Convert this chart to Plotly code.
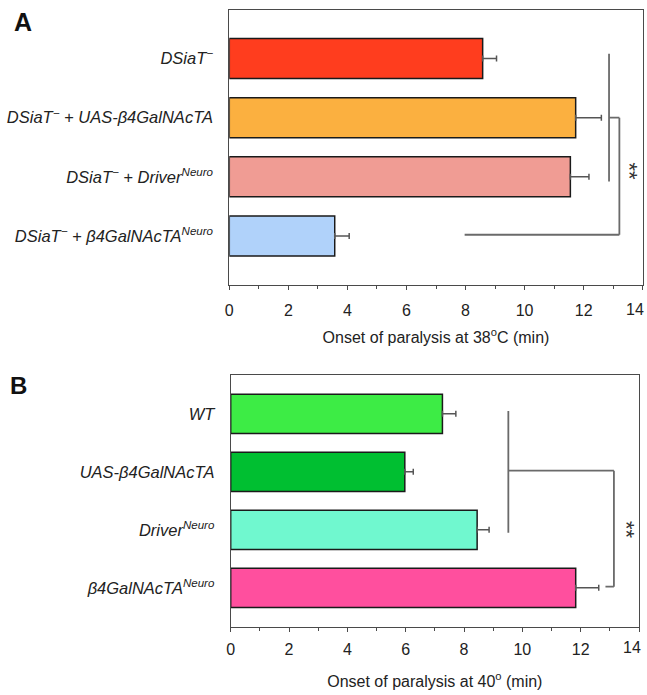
import plotly.graph_objects as go

# ---------------- data ----------------
cats_a = ["DSiaT<sup>−</sup>",
          "DSiaT<sup>−</sup> + UAS-β4GalNAcTA",
          "DSiaT<sup>−</sup> + Driver<sup>Neuro</sup>",
          "DSiaT<sup>−</sup> + β4GalNAcTA<sup>Neuro</sup>"]
vals_a = [8.58, 11.73, 11.55, 3.57]
errs_a = [0.47, 0.87, 0.63, 0.49]
colors_a = ["#FF3D1E", "#FBB040", "#F09C94", "#B0D2FA"]

cats_b = ["WT",
          "UAS-β4GalNAcTA",
          "Driver<sup>Neuro</sup>",
          "β4GalNAcTA<sup>Neuro</sup>"]
vals_b = [7.26, 5.97, 8.45, 11.83]
errs_b = [0.46, 0.29, 0.41, 0.79]
colors_b = ["#3DEC45", "#00BF31", "#70F8CF", "#FF4F9E"]

x_ticks = [0, 2, 4, 6, 8, 10, 12, 14]
x_tick_labels = ["0", "2", "4", "6", "8", "10", "12", "14"]
title_a = "Onset of paralysis at 38<sup>o</sup>C (min)"
title_b = "Onset of paralysis at 40<sup>o</sup> (min)"
sig_label = "**"

# significance brackets (data units: x in minutes, y in category index)
bracket_a = [  # (x0, y0, x1, y1)
    (12.86, -0.08, 12.86, 2.08),
    (12.86, 1.0, 13.21, 1.0),
    (13.21, 1.0, 13.21, 2.98),
    (7.97, 2.98, 13.21, 2.98),
]
star_a = (13.57, 1.91)
bracket_b = [
    (9.52, -0.05, 9.52, 2.05),
    (9.52, 0.98, 13.14, 0.98),
    (13.14, 0.98, 13.14, 2.98),
    (12.85, 2.98, 13.14, 2.98),
]
star_b = (13.55, 2.0)

FONT = "Liberation Sans, Arial, Helvetica, sans-serif"
AXC = "#4a4a4a"

# the last tick label sits at the picture edge: it is drawn right-aligned at its
# tick (as in the reference) instead of centred
tick_text = x_tick_labels[:-1] + [""]

fig = go.Figure()

def add_bars(vals, errs, colors, xa, ya):
    fig.add_trace(go.Bar(
        x=vals, y=list(range(len(vals))), orientation="h",
        marker=dict(color=colors, line=dict(color="#1a1a1a", width=1.5)),
        width=0.675,
        error_x=dict(type="data", array=errs, arrayminus=[0] * len(errs),
                     symmetric=False, color="#555555", thickness=1.5, width=3),
        xaxis=xa, yaxis=ya, showlegend=False, hoverinfo="x+y"))

add_bars(vals_a, errs_a, colors_a, "x", "y")
add_bars(vals_b, errs_b, colors_b, "x2", "y2")

def xaxis_style(title, tick_standoff, title_standoff):
    return dict(range=[0, 14], tickvals=x_ticks, ticktext=tick_text,
                ticks="outside", ticklen=4,
                tickcolor=AXC, showline=True, linecolor=AXC, linewidth=1,
                mirror=True, showgrid=False, zeroline=False, automargin=False,
                ticklabeloverflow="allow", ticklabelstandoff=tick_standoff,
                minor=dict(dtick=1, ticks="outside", ticklen=3, tickcolor=AXC, showgrid=False),
                tickfont=dict(size=16, color="#222", family=FONT),
                title=dict(text=title, font=dict(size=16, color="#222", family=FONT),
                           standoff=title_standoff))

ycommon = dict(showline=True, linecolor=AXC, linewidth=1, mirror=True,
               showgrid=False, zeroline=False, ticks="", automargin=False,
               tickfont=dict(size=16.5, color="#222", family=FONT, style="italic"),
               ticklabelstandoff=12)

fig.update_layout(
    width=647, height=695, margin=dict(l=0, r=0, t=0, b=0, autoexpand=False),
    plot_bgcolor="white", paper_bgcolor="white",
    font=dict(family=FONT, color="#222"),
    xaxis=dict(domain=[229.3 / 647, 642.7 / 647], anchor="y", **xaxis_style(title_a, 7, 13)),
    yaxis=dict(domain=[1 - 285 / 695, 1 - 9.5 / 695], anchor="x",
               range=[3.83, -0.83], tickvals=list(range(4)), ticktext=cats_a, **ycommon),
    xaxis2=dict(domain=[230.7 / 647, 639 / 647], anchor="y2", **xaxis_style(title_b, 4, 18)),
    yaxis2=dict(domain=[1 - 626.7 / 695, 1 - 375 / 695], anchor="x2",
                range=[3.67, -0.67], tickvals=list(range(4)), ticktext=cats_b, **ycommon),
)

shapes = []
for segs, xr, yr in [(bracket_a, "x", "y"), (bracket_b, "x2", "y2")]:
    for x0, y0, x1, y1 in segs:
        shapes.append(dict(type="line", xref=xr, yref=yr, x0=x0, y0=y0, x1=x1, y1=y1,
                           line=dict(color="#6a6a6a", width=1.8)))
fig.update_layout(shapes=shapes)

annotations = []
for (sx, sy), xr, yr in [(star_a, "x", "y"), (star_b, "x2", "y2")]:
    annotations.append(dict(x=sx, y=sy, xref=xr, yref=yr, text=sig_label,
                            textangle=90, showarrow=False,
                            xanchor="center", yanchor="middle",
                            font=dict(size=22, color="#333", family=FONT)))
# last tick label (14) of each x axis
for xr, yr, ysh, xsh in [("x", "y domain", -24, 3), ("x2", "y2 domain", -21, 4)]:
    annotations.append(dict(x=x_ticks[-1], y=0, xref=xr, yref=yr, text=x_tick_labels[-1],
                            xanchor="right", yanchor="middle", xshift=xsh, yshift=ysh,
                            showarrow=False, font=dict(size=16, color="#222", family=FONT)))
annotations.append(dict(x=23 / 647, y=1 - 22 / 695, xref="paper", yref="paper", text="<b>A</b>",
                        xanchor="center", yanchor="middle",
                        showarrow=False, font=dict(size=25, color="#111", family=FONT)))
annotations.append(dict(x=18 / 647, y=1 - 385 / 695, xref="paper", yref="paper", text="<b>B</b>",
                        xanchor="center", yanchor="middle",
                        showarrow=False, font=dict(size=24, color="#111", family=FONT)))
fig.update_layout(annotations=annotations)

fig.write_html("out.html", config={"displayModeBar": False},
               post_script="document.body.style.margin='0';document.body.style.padding='0';")
